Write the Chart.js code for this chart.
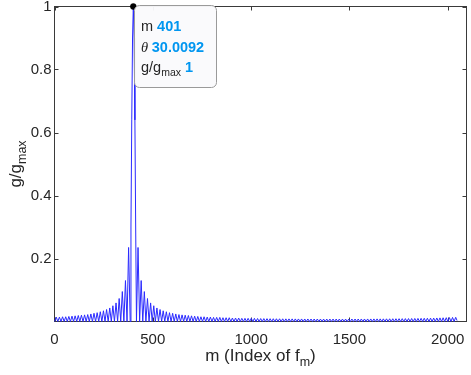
<!DOCTYPE html>
<html>
<head>
<meta charset="utf-8">
<script src="https://cdn.jsdelivr.net/npm/chart.js@4.4.0/dist/chart.umd.min.js"></script>
<style>
  html, body { margin: 0; padding: 0; background: #fff; }
  canvas { display: block; }
</style>
</head>
<body>
<canvas id="chart" width="471" height="375"></canvas>
<script>
// samples of g/gmax: nulls, side-lobe tops, main lobe
const nullM = [1,17,33,49,65,81,97,113,129,145,161,177,193,209,225,241,257,273,289,305,321,337,353,369,385,
  417,433,449,465,481,497,513,529,545,561,577,593,609,625,641,657,673,689,705,721,737,753,769,785,801,817,
  833,849,865,881,897,913,929,945,961,977,993,1009,1025,1041,1057,1073,1089,1105,1121,1137,1153,1169,1185,
  1201,1217,1233,1249,1265,1281,1297,1313,1329,1345,1361,1377,1393,1409,1425,1441,1457,1473,1489,1505,1521,
  1537,1553,1569,1585,1601,1617,1633,1649,1665,1681,1697,1713,1729,1745,1761,1777,1793,1809,1825,1841,1857,
  1873,1889,1905,1921,1937,1953,1969,1985,2001,2017,2033];

const leftM = [9,25,41,57,73,89,105,121,137,153,169,185,201,217,233,249,265,281,297,313,329,345,361,377];
const leftG = [0.014,0.014,0.015,0.015,0.016,0.017,0.018,0.019,0.020,0.021,0.022,0.024,0.026,0.028,0.031,
  0.034,0.038,0.043,0.050,0.059,0.073,0.095,0.13,0.235];

const mainM = [389,393,397,401,405,409,413];
const mainG = [0.30,0.64,0.90,1,0.90,0.64,0.30];

const rightM = [425,441,457,473,489,505,521,537,553,569,585,601,617,633,649,665,681,697,713,729,745,761,777,793,
  809,825,841,857,873,889,905,921,937,953,969,985,1001,1017,
  1033,1049,1065,1081,1097,1113,1129,1145,1161,1177,1193,1209,
  1225,1241,1257,1273,1289,1305,1321,1337,1353,1369,1385,1401,1417,1433,1449,1465,1481,1497,
  1513,1529,1545,1561,1577,1593,1609,1625,1641,1657,1673,1689,1705,1721,1737,1753,1769,1785,1801,1817,
  1833,1849,1865,1881,1897,1913,1929,1945,1961,1977,1993,2009,2025,2041];
const rightG = [0.235,0.13,0.095,0.073,0.059,0.050,0.043,0.038,0.034,0.031,0.028,0.026,0.024,0.022,0.021,0.020,
  0.019,0.018,0.017,0.016,0.015,0.015,0.014,0.014,
  0.013,0.013,0.013,0.012,0.012,0.012,0.011,0.011,0.011,0.010,0.010,0.010,0.010,0.010,
  0.0095,0.0093,0.0092,0.0090,0.0089,0.0088,0.0087,0.0086,0.0085,0.0084,0.0083,0.0083,
  0.0082,0.0081,0.0081,0.0080,0.0080,0.0079,0.0079,0.0079,0.0078,0.0078,0.0078,0.0078,0.0078,0.0078,0.0078,0.0078,0.0078,0.0078,
  0.0079,0.0079,0.0079,0.0080,0.0080,0.0081,0.0081,0.0082,0.0083,0.0083,0.0084,0.0085,0.0086,0.0087,0.0088,0.0089,
  0.0090,0.0092,0.0093,0.0095,0.0096,0.0098,0.0100,0.0102,0.0104,0.0107,0.0109,0.0112,0.0115,0.0118,0.0121,0.0125,0.0129,0.0133];

const edgeM = [2048];
const edgeG = [0.003];

const xTicks = [0, 500, 1000, 1500, 2000];
const yTicks = [0.2, 0.4, 0.6, 0.8, 1];
const yTickLabels = ['0.2', '0.4', '0.6', '0.8', '1'];
const xMax = 2096;

// data tip
const tipM = 401;
const tipTheta = '30.0092';
const tipG = 1;

const points = [
  ...nullM.map(m => ({ x: m, y: 0 })),
  ...leftM.map((m, i) => ({ x: m, y: leftG[i] })),
  ...mainM.map((m, i) => ({ x: m, y: mainG[i] })),
  ...rightM.map((m, i) => ({ x: m, y: rightG[i] })),
  ...edgeM.map((m, i) => ({ x: m, y: edgeG[i] })),
].sort((a, b) => a.x - b.x);

const SANS = '"Liberation Sans", Arial, Helvetica, sans-serif';
const TXT = '#262626';
const BLUE = 'rgb(0,150,240)';

const matlabAxes = {
  id: 'matlabAxes',
  beforeDatasetsDraw(chart) {
    const { ctx, chartArea: a, scales: { x, y } } = chart;
    ctx.save();
    ctx.strokeStyle = '#3a3a3a';
    ctx.lineWidth = 1;
    ctx.strokeRect(a.left, a.top, a.right - a.left, a.bottom - a.top);
    ctx.beginPath();
    xTicks.forEach(v => {
      const px = Math.round(x.getPixelForValue(v)) + 0.5;
      ctx.moveTo(px, a.bottom); ctx.lineTo(px, a.bottom - 4);
      ctx.moveTo(px, a.top); ctx.lineTo(px, a.top + 4);
    });
    yTicks.forEach(v => {
      const py = Math.round(y.getPixelForValue(v)) + 0.5;
      ctx.moveTo(a.left, py); ctx.lineTo(a.left + 4, py);
      ctx.moveTo(a.right, py); ctx.lineTo(a.right - 4, py);
    });
    ctx.stroke();
    ctx.restore();
  },
  afterDatasetsDraw(chart) {
    const { ctx, scales: { x, y } } = chart;
    const px = x.getPixelForValue(tipM), py = y.getPixelForValue(tipG);
    const bx = Math.round(px) + 1.5, by = py - 1, bw = 82, bh = 82;
    ctx.save();
    ctx.beginPath();
    ctx.roundRect(bx, by, bw, bh, 5);
    ctx.fillStyle = 'rgba(250,250,252,0.96)';
    ctx.fill();
    ctx.strokeStyle = '#9a9a9a';
    ctx.lineWidth = 1;
    ctx.stroke();

    const tx = bx + 6.5;
    ctx.textBaseline = 'alphabetic';
    ctx.textAlign = 'left';
    // row 1
    ctx.font = `14.5px ${SANS}`;
    ctx.fillStyle = TXT;
    ctx.fillText('m ', tx, by + 25.5);
    let w = ctx.measureText('m ').width;
    ctx.font = `bold 14.5px ${SANS}`;
    ctx.fillStyle = BLUE;
    ctx.fillText(String(tipM), tx + w, by + 25.5);
    // row 2
    ctx.font = `italic 14.5px "Liberation Serif", "Times New Roman", serif`;
    ctx.fillStyle = TXT;
    ctx.fillText('\u03b8 ', tx, by + 46);
    w = ctx.measureText('\u03b8 ').width;
    ctx.font = `bold 14.5px ${SANS}`;
    ctx.fillStyle = BLUE;
    ctx.fillText(tipTheta, tx + w, by + 46);
    // row 3
    ctx.font = `14.5px ${SANS}`;
    ctx.fillStyle = TXT;
    ctx.fillText('g/g', tx, by + 66);
    w = ctx.measureText('g/g').width;
    ctx.font = `10.5px ${SANS}`;
    ctx.fillText('max', tx + w, by + 70);
    w += ctx.measureText('max').width;
    ctx.font = `bold 14.5px ${SANS}`;
    ctx.fillStyle = BLUE;
    ctx.fillText(' ' + tipG, tx + w, by + 66);
    ctx.restore();
  },
  afterDraw(chart) {
    const { ctx, chartArea: a } = chart;
    ctx.save();
    ctx.fillStyle = TXT;
    ctx.textBaseline = 'alphabetic';
    ctx.textAlign = 'left';
    // x title: m (Index of f_m)
    const big = `17px ${SANS}`, sub = `12.5px ${SANS}`;
    ctx.font = big; const w1 = ctx.measureText('m (Index of f').width;
    ctx.font = sub; const w2 = ctx.measureText('m').width;
    ctx.font = big; const w3 = ctx.measureText(')').width;
    let sx = (a.left + a.right) / 2 - (w1 + w2 + w3) / 2;
    const base = 361;
    ctx.font = big; ctx.fillText('m (Index of f', sx, base);
    ctx.font = sub; ctx.fillText('m', sx + w1, base + 4.5);
    ctx.font = big; ctx.fillText(')', sx + w1 + w2, base);
    // y title: g/g_max
    ctx.translate(21, (a.top + a.bottom) / 2);
    ctx.rotate(-Math.PI / 2);
    ctx.font = big; const v1 = ctx.measureText('g/g').width;
    ctx.font = sub; const v2 = ctx.measureText('max').width;
    const sy = -(v1 + v2) / 2;
    ctx.font = big; ctx.fillText('g/g', sy, 0);
    ctx.font = sub; ctx.fillText('max', sy + v1, 4.5);
    ctx.restore();
  }
};

const tickFont = { family: SANS, size: 15 };

new Chart(document.getElementById('chart'), {
  type: 'line',
  data: {
    datasets: [
      {
        data: [{ x: tipM, y: tipG }],
        showLine: false,
        pointRadius: 3,
        pointBackgroundColor: '#000',
        pointBorderColor: '#000',
        pointBorderWidth: 0.5,
        clip: false
      },
      {
        data: points,
        borderColor: '#2a2aff',
        borderWidth: 1,
        pointRadius: 0,
        tension: 0,
        fill: false,
        clip: false
      }
    ]
  },
  options: {
    responsive: false,
    animation: false,
    devicePixelRatio: 1,
    layout: { padding: { left: 0, right: 3.5, top: 6.5, bottom: 0 } },
    plugins: { legend: { display: false }, tooltip: { enabled: false } },
    scales: {
      x: {
        type: 'linear', min: 0, max: xMax,
        grid: { display: false, drawTicks: false }, border: { display: false },
        ticks: { font: tickFont, color: TXT, padding: 9, maxRotation: 0, autoSkip: false, callback: v => String(v) },
        afterBuildTicks: s => { s.ticks = xTicks.map(v => ({ value: v })); },
        afterFit: s => { s.height = 53.5; s.paddingLeft = 0; s.paddingRight = 0; }
      },
      y: {
        type: 'linear', min: 0, max: 1,
        grid: { display: false, drawTicks: false }, border: { display: false },
        ticks: { font: tickFont, color: TXT, padding: 3, callback: v => yTickLabels[yTicks.indexOf(v)] },
        afterBuildTicks: s => { s.ticks = yTicks.map(v => ({ value: v })); },
        afterFit: s => { s.width = 54.5; s.paddingTop = 0; s.paddingBottom = 0; }
      }
    }
  },
  plugins: [matlabAxes]
});
</script>
</body>
</html>
